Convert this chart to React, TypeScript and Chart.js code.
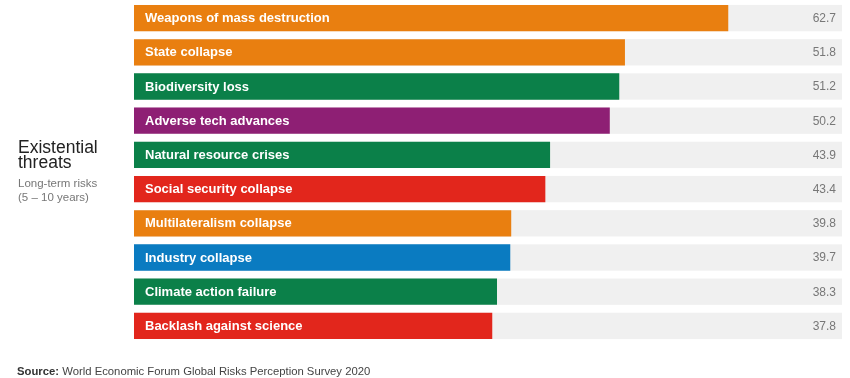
import React, { useEffect, useRef } from "react";
import { Chart, registerables } from "chart.js";

Chart.register(...registerables);

const categories = [
  "Weapons of mass destruction",
  "State collapse",
  "Biodiversity loss",
  "Adverse tech advances",
  "Natural resource crises",
  "Social security collapse",
  "Multilateralism collapse",
  "Industry collapse",
  "Climate action failure",
  "Backlash against science",
];
const values = [62.7, 51.8, 51.2, 50.2, 43.9, 43.4, 39.8, 39.7, 38.3, 37.8];
const valueLabels = ["62.7", "51.8", "51.2", "50.2", "43.9", "43.4", "39.8", "39.7", "38.3", "37.8"];
const barColors = [
  "#E97F10",
  "#E97F10",
  "#0B8049",
  "#8E1F74",
  "#0B8049",
  "#E2261C",
  "#E97F10",
  "#0A7BC1",
  "#0B8049",
  "#E2261C",
];
const titleLines = ["Existential", "threats"];
const subtitleLines = ["Long-term risks", "(5 \u2013 10 years)"];
const sourceBold = "Source:";
const sourceText = " World Economic Forum Global Risks Perception Survey 2020";
const axisMax = 74.7;

const FONT = "'Liberation Sans', Arial, Helvetica, sans-serif";

const decorPlugin = {
  id: "decor",
  beforeDatasetsDraw(chart: any) {
    const ctx = chart.ctx;
    const area = chart.chartArea;
    const meta = chart.getDatasetMeta(0);
    ctx.save();
    ctx.fillStyle = "#F0F0F0";
    meta.data.forEach((bar: any) => {
      const h = bar.height;
      ctx.fillRect(area.left, bar.y - h / 2, area.right - area.left, h);
    });
    ctx.restore();
  },
  afterDatasetsDraw(chart: any) {
    const ctx = chart.ctx;
    const area = chart.chartArea;
    const meta = chart.getDatasetMeta(0);
    ctx.save();
    ctx.textBaseline = "middle";
    meta.data.forEach((bar: any, i: number) => {
      ctx.fillStyle = "#FFFFFF";
      ctx.font = `bold 13px ${FONT}`;
      ctx.textAlign = "left";
      ctx.fillText(categories[i], area.left + 11, bar.y + 0.5);
      ctx.fillStyle = "#777777";
      ctx.font = `12px ${FONT}`;
      ctx.textAlign = "right";
      ctx.fillText(valueLabels[i], area.right - 6, bar.y + 0.5);
    });
    // left titles
    ctx.textBaseline = "alphabetic";
    ctx.textAlign = "left";
    ctx.fillStyle = "#222222";
    ctx.font = `17.5px ${FONT}`;
    ctx.fillText(titleLines[0], 18, 153);
    ctx.fillText(titleLines[1], 18, 168);
    ctx.fillStyle = "#777777";
    ctx.font = `11.5px ${FONT}`;
    ctx.fillText(subtitleLines[0], 18, 187);
    ctx.fillText(subtitleLines[1], 18, 201);
    // source
    ctx.fillStyle = "#333333";
    ctx.font = `bold 11.3px ${FONT}`;
    ctx.fillText(sourceBold, 17, 375);
    const w = ctx.measureText(sourceBold).width;
    ctx.font = `11.3px ${FONT}`;
    ctx.fillStyle = "#444444";
    ctx.fillText(sourceText, 17 + w, 375);
    ctx.restore();
  },
};

export default function App() {
  const ref = useRef<HTMLCanvasElement | null>(null);
  useEffect(() => {
    if (!ref.current) return;
    const chart = new Chart(ref.current, {
      type: "bar",
      data: {
        labels: categories,
        datasets: [
          {
            data: values,
            backgroundColor: barColors,
            borderWidth: 0,
            barPercentage: 0.77,
            categoryPercentage: 1,
          },
        ],
      },
      options: {
        indexAxis: "y",
        responsive: false,
        animation: false,
        devicePixelRatio: 1,
        layout: { padding: { left: 134, right: 8, top: 1, bottom: 35 } },
        plugins: {
          legend: { display: false },
          tooltip: { enabled: false },
          title: { display: false },
        },
        scales: {
          x: { display: false, min: 0, max: axisMax },
          y: { display: false },
        },
      },
      plugins: [decorPlugin],
    });
    return () => chart.destroy();
  }, []);
  return (
    <div style={{ position: "absolute", left: 0, top: 0, width: 850, height: 378, background: "#fff" }}>
      <canvas ref={ref} width={850} height={378} style={{ width: 850, height: 378, display: "block" }} />
    </div>
  );
}
